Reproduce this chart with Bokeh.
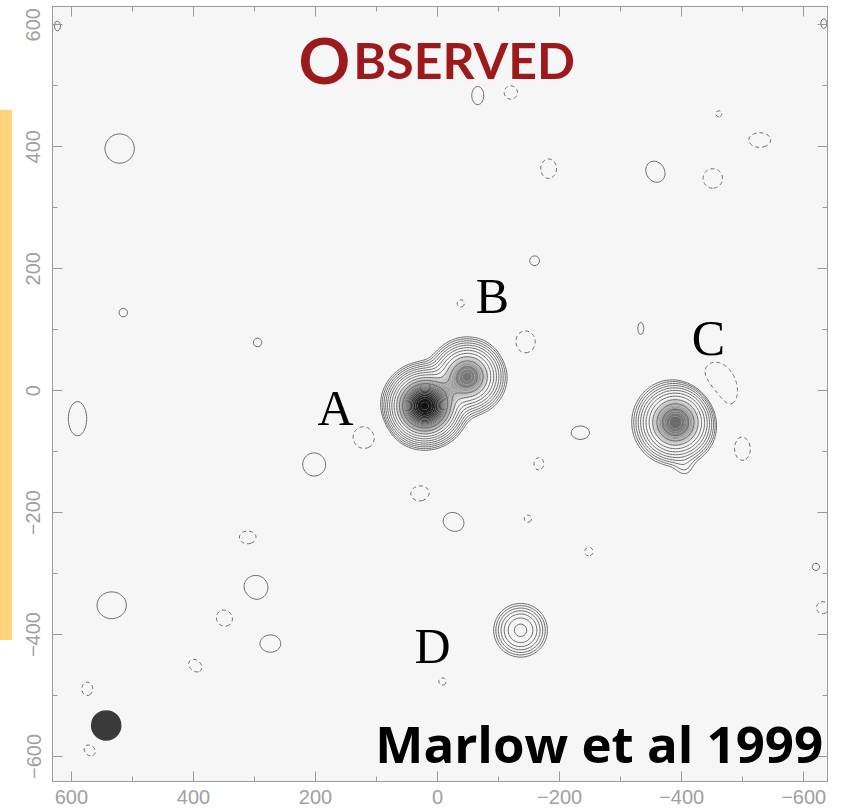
import numpy as np
from bokeh.plotting import figure
from bokeh.layouts import row
from bokeh.models import Range1d, FixedTicker, LinearAxis, Label, Div
from bokeh.embed import file_html
from bokeh.resources import INLINE

# ---------------- data ----------------
x_ticks = [600, 400, 200, 0, -200, -400, -600]
x_tick_labels = ["600", "400", "200", "0", "\u2212200", "\u2212400", "\u2212600"]
y_ticks = [-600, -400, -200, 0, 200, 400, 600]
y_tick_labels = ["\u2212600", "\u2212400", "\u2212200", "0", "200", "400", "600"]
minor_ticks = [-600, -500, -400, -300, -200, -100, 0, 100, 200, 300, 400, 500, 600]

# bright components (offsets in milli-arcsec; amplitude in units of the lowest contour)
src_x = [21, -49, -390, -405, -136]
src_y = [-25, 23, -52, -128, -393]
src_amp = [100, 40, 45, 1.0, 9]
src_sx = [24, 24, 26, 12, 21]
src_sy = [24, 24, 26, 12, 21]
src_ang = [0, 0, 0, 0, 0]

# faint positive noise islands (solid contour): centre and contour radii
pos_x = [521, 515, 295, 202, 590, 534, 298, 274, -26, -234, -66, -357, -159, -620, -333, 623, -633]
pos_y = [397, 128, 79, -121, -46, -352, -323, -415, -215, -69, 484, 359, 213, -289, 102, 598, 602]
pos_rx = [24, 7, 7, 19, 15, 24, 20, 17, 18, 15, 10, 15, 8, 6, 5, 5, 5]
pos_ry = [24, 7, 7, 19, 28, 22, 20, 14, 15, 11, 15, 18, 8, 6, 10, 8, 8]
pos_ang = [0, 0, 0, 0, 0, 0, 20, 0, 30, 0, 0, -30, 0, 0, 0, 0, 0]

# faint negative noise islands (dashed contour): centre and contour radii
neg_x = [-120, -182, -451, -528, -461, -38, -144, -462, -500, 121, -166, 28, -148, -248, 311, 348, 397, 574, 570, -8, -631]
neg_y = [489, 364, 348, 411, 454, 143, 80, 8, -98, -77, -120, -169, -210, -264, -241, -372, -451, -489, -590, -477, -356]
neg_rx = [11, 13, 16, 18, 5, 6, 16, 28, 10, 18, 8, 16, 6, 7, 14, 15, 12, 9, 10, 6, 10]
neg_ry = [11, 16, 16, 12, 5, 6, 18, 40, 14, 18, 10, 13, 6, 7, 11, 15, 9, 11, 8, 6, 10]
neg_ang = [0, 0, 0, 0, 0, 0, 0, -20, 0, 0, 0, 0, 0, 0, 0, 0, 40, 0, 40, 0, 0]

# contour levels (multiples of the lowest contour)
pos_levels = [1.0, 1.41, 2.0, 2.83, 4.0, 5.66, 8.0, 11.3, 16.0, 22.6, 32.0]
neg_levels = [-1.0]

# component labels
lab_text = ["A", "B", "C", "D"]
lab_x = [167, -90, -444, 8]
lab_y = [-28, 156, 87, -418]

# restoring beam
beam_x = [543]
beam_y = [-549]
beam_d = [50]

# ---------------- field built from the components ----------------
gx = np.arange(-645.0, 640.0, 2.5)
gy = np.arange(-645.0, 636.0, 2.5)
X, Y = np.meshgrid(gx, gy)
Z = np.zeros_like(X)

def add(x0, y0, amp, sx, sy, ang):
    global Z
    t = np.radians(ang)
    dx, dy = X - x0, Y - y0
    u = dx * np.cos(t) + dy * np.sin(t)
    v = -dx * np.sin(t) + dy * np.cos(t)
    Z = Z + amp * np.exp(-(u ** 2 / (2 * sx ** 2) + v ** 2 / (2 * sy ** 2)))

for a in zip(src_x, src_y, src_amp, src_sx, src_sy, src_ang):
    add(*a)
ISL = 1.3                              # island peak: only the lowest contour is crossed
K = np.sqrt(2 * np.log(ISL))           # contour radius / sigma
for x0, y0, rx, ry, an in zip(pos_x, pos_y, pos_rx, pos_ry, pos_ang):
    add(x0, y0, ISL, rx / K, ry / K, an)
for x0, y0, rx, ry, an in zip(neg_x, neg_y, neg_rx, neg_ry, neg_ang):
    add(x0, y0, -ISL, rx / K, ry / K, an)

# ---------------- figure ----------------
p = figure(
    frame_width=775, frame_height=775,
    x_range=Range1d(631, -639), y_range=Range1d(-641, 630),
    output_backend="svg", toolbar_location=None,
    min_border_left=40, min_border_right=23, min_border_top=6, min_border_bottom=31,
    background_fill_color="#f6f6f6", border_fill_color="white",
)
p.grid.visible = False
p.outline_line_color = "#9a9a9a"

# grey-scale shading of the brightest parts
fill_levels = list(np.geomspace(14, 105, 25)) + [400]
n = len(fill_levels) - 1
greys = []
for i in range(n):
    g = int(round(226 * (1 - i / (n - 1)) + 8 * (i / (n - 1))))
    greys.append("#%02x%02x%02x" % (g, g, g))
p.contour(gx, gy, Z, levels=fill_levels, fill_color=greys, line_color=None)

# contours
p.contour(gx, gy, Z, levels=pos_levels, line_color="#6a6a6a", line_width=1)
p.contour(gx, gy, Z, levels=neg_levels, line_color="#6a6a6a", line_width=1, line_dash="4 3")

# beam
p.ellipse(x=beam_x, y=beam_y, width=beam_d, height=beam_d, fill_color="#3a3a3a", line_color=None)

# axes
def style_axis(ax, labels=True):
    ax.axis_line_color = "#9a9a9a"
    ax.major_tick_line_color = "#9a9a9a"
    ax.minor_tick_line_color = "#9a9a9a"
    ax.major_tick_in = 10
    ax.major_tick_out = 0
    ax.minor_tick_in = 5
    ax.minor_tick_out = 0
    ax.major_label_text_font = "Liberation Sans"
    ax.major_label_text_font_size = "20px"
    ax.major_label_text_color = "#a0a0a0"
    ax.major_label_standoff = 8 if labels else 0

p.xaxis.ticker = FixedTicker(ticks=x_ticks, minor_ticks=minor_ticks)
p.xaxis.major_label_overrides = {t: s for t, s in zip(x_ticks, x_tick_labels)}
p.yaxis.ticker = FixedTicker(ticks=y_ticks, minor_ticks=minor_ticks)
p.yaxis.major_label_overrides = {t: s for t, s in zip(y_ticks, y_tick_labels)}
p.yaxis.major_label_orientation = "vertical"
style_axis(p.xaxis[0])
style_axis(p.yaxis[0])
p.yaxis.major_label_standoff = 12

top = LinearAxis(ticker=FixedTicker(ticks=x_ticks, minor_ticks=minor_ticks))
right = LinearAxis(ticker=FixedTicker(ticks=y_ticks, minor_ticks=minor_ticks))
style_axis(top, labels=False)
style_axis(right, labels=False)
top.major_label_overrides = {t: "" for t in x_ticks}
right.major_label_overrides = {t: "" for t in y_ticks}
p.add_layout(top, "above")
p.add_layout(right, "right")

# component letters
for t, x, y in zip(lab_text, lab_x, lab_y):
    p.add_layout(Label(x=x, y=y, text=t, text_font="Liberation Serif",
                       text_font_size="50px", text_color="black",
                       text_align="center", text_baseline="alphabetic"))

# title (small caps) and citation
p.add_layout(Label(x=143, y=543, text="O", text_font="Lato", text_font_style="bold",
                   text_font_size="64px", text_color="#9c1a1c",
                   text_align="right", text_baseline="alphabetic"))
p.add_layout(Label(x=138, y=543, text="BSERVED", text_font="Lato", text_font_style="bold",
                   text_font_size="50px", text_color="#9c1a1c",
                   text_align="left", text_baseline="alphabetic"))
p.add_layout(Label(x=102, y=-578, text="Marlow et al 1999", text_font="Open Sans",
                   text_font_style="bold", text_font_size="51px", text_color="black",
                   text_align="left", text_baseline="alphabetic"))

# yellow side bar
bar = Div(width=12, height=530, margin=(110, 0, 0, 0),
          styles={"background-color": "#ffd37a"})

layout = row(bar, p, spacing=0)
open("out.html", "w").write(file_html(layout, INLINE))
